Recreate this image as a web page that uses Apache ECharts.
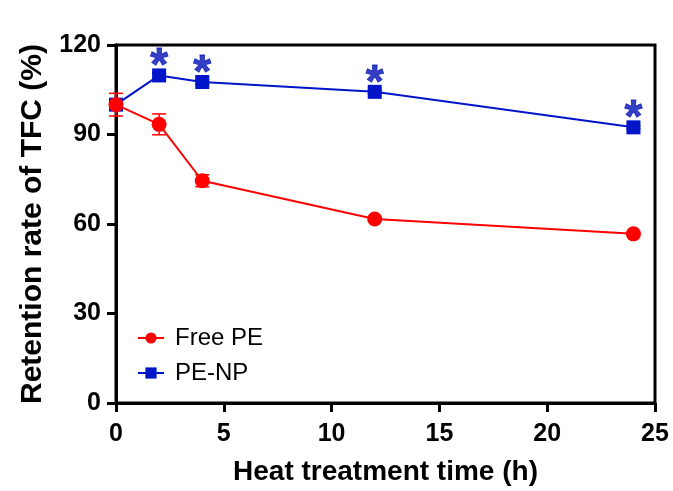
<!DOCTYPE html>
<html><head><meta charset="utf-8">
<script src="https://cdn.jsdelivr.net/npm/echarts@6/dist/echarts.min.js"></script>
<style>html,body{margin:0;padding:0;background:#fff}#c{width:673px;height:491px}</style>
</head><body><div id="c"></div>
<script>
const times = [0, 2, 4, 12, 24];
const freePE = [100, 93.4, 74.5, 61.7, 56.7];
const freePEErr = [3.8, 3.5, 2.0, 0.6, 0.5];
const peNP = [100, 109.8, 107.6, 104.3, 92.4];
const peNPErr = [1.5, 0.8, 0.8, 0.6, 0.6];
const sigTimes = [2, 4, 12, 24];
const xTicks = [0, 5, 10, 15, 20, 25];
const yTicks = [0, 30, 60, 90, 120];

const RED = '#ff0000', BLUE = '#0014c8';
const FONT = 'Liberation Sans';
const chart = echarts.init(document.getElementById('c'));

function errSeries(vals, errs, color, z) {
  return {
    type: 'custom', z: z, silent: true,
    data: times.map((t, i) => [t, vals[i] - errs[i], vals[i] + errs[i]]),
    renderItem: (params, api) => {
      const x = api.value(0);
      const lo = api.coord([x, api.value(1)]);
      const hi = api.coord([x, api.value(2)]);
      const w = 7;
      const st = { stroke: color, lineWidth: 1.5 };
      return { type: 'group', children: [
        { type: 'line', shape: { x1: lo[0], y1: lo[1], x2: hi[0], y2: hi[1] }, style: st },
        { type: 'line', shape: { x1: lo[0]-w, y1: lo[1], x2: lo[0]+w, y2: lo[1] }, style: st },
        { type: 'line', shape: { x1: hi[0]-w, y1: hi[1], x2: hi[0]+w, y2: hi[1] }, style: st }
      ]};
    }
  };
}

chart.setOption({
  animation: false,
  grid: { left: 116, right: 18, top: 45, bottom: 86, show: true, borderColor: '#000', borderWidth: 3 },
  xAxis: {
    type: 'value', min: 0, max: 25, interval: 5,
    name: 'Heat treatment time (h)', nameLocation: 'middle', nameGap: 55,
    nameTextStyle: { fontFamily: FONT, fontWeight: 'bold', fontSize: 28, color: '#000' },
    axisLine: { lineStyle: { color: '#000', width: 3 } },
    axisTick: { show: true, length: 9, lineStyle: { color: '#000', width: 3 } },
    axisLabel: { fontFamily: FONT, fontWeight: 'bold', fontSize: 25, color: '#000', margin: 19,
      formatter: v => xTicks.includes(v) ? String(v) : '' },
    splitLine: { show: false }
  },
  yAxis: {
    type: 'value', min: 0, max: 120, interval: 30,
    name: 'Retention rate of TFC (%)', nameLocation: 'middle', nameGap: 68, nameRotate: 90,
    nameTextStyle: { fontFamily: FONT, fontWeight: 'bold', fontSize: 30, color: '#000' },
    axisLine: { lineStyle: { color: '#000', width: 3 } },
    axisTick: { show: true, length: 9, lineStyle: { color: '#000', width: 3 } },
    axisLabel: { fontFamily: FONT, fontWeight: 'bold', fontSize: 25, color: '#000', margin: 15,
      formatter: v => yTicks.includes(v) ? String(v) : '' },
    splitLine: { show: false }
  },
  legend: {
    orient: 'vertical', left: 132, top: 321, itemGap: 11, itemWidth: 26, itemHeight: 14,
    textStyle: { fontFamily: FONT, fontSize: 24, color: '#000', padding: [0, 0, 0, 6] },
    data: ['Free PE', 'PE-NP']
  },
  series: [
    errSeries(peNP, peNPErr, BLUE, 2),
    {
      name: 'PE-NP', type: 'line', z: 3,
      data: times.map((t, i) => [t, peNP[i]]),
      symbol: 'rect', symbolSize: 14,
      lineStyle: { color: BLUE, width: 2 }, itemStyle: { color: BLUE }
    },
    errSeries(freePE, freePEErr, RED, 4),
    {
      name: 'Free PE', type: 'line', z: 5,
      data: times.map((t, i) => [t, freePE[i]]),
      symbol: 'circle', symbolSize: 15,
      lineStyle: { color: RED, width: 2 }, itemStyle: { color: RED }
    },
    {
      type: 'scatter', z: 6, silent: true, symbolSize: 0,
      data: sigTimes.map(t => [t, peNP[times.indexOf(t)]]),
      label: { show: true, position: 'top', distance: -15, formatter: '*', color: '#0010b4',
        textBorderColor: '#0010b4', textBorderWidth: 0.8,
        fontFamily: FONT, fontWeight: 'bold', fontSize: 46 }
    }
  ]
});
</script></body></html>
